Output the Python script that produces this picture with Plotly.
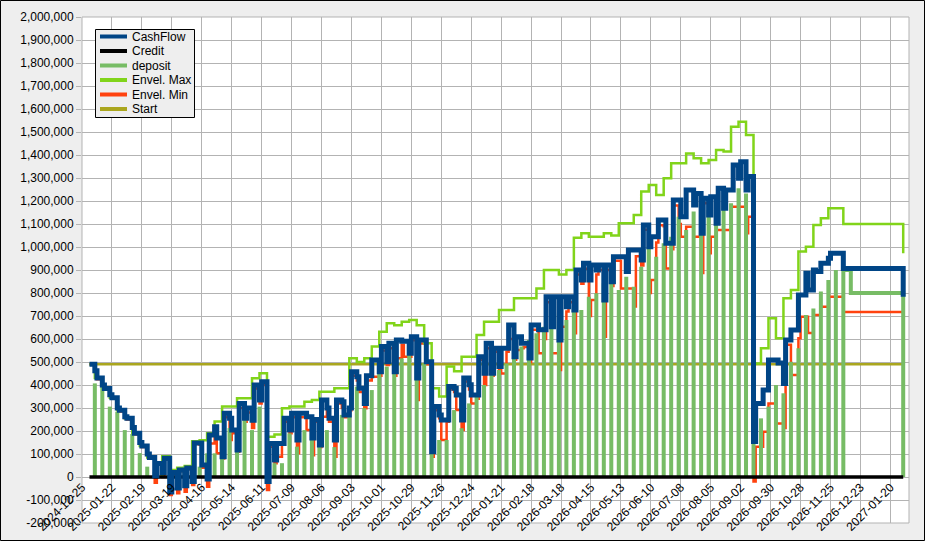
import plotly.graph_objects as go
import pandas as pd

# weekly dates (deposit day), plus start / tail / end of the series
start_date = "2025-01-01"
week_dates = pd.date_range("2025-01-06", periods=101, freq="7D")
tail_date = pd.Timestamp("2026-12-14")
end_date = pd.Timestamp("2027-02-01")

# values in thousands
deposit = [407, 393, 306, 284, 204, 187, 104, 45, 23, 10,
           5, 30, 45, 30, 45, 103, 103, 88, 213, 132,
           248, 204, 306, 349, 60, 60, 190, 132, 204, 219,
           132, 204, 130, 270, 270, 393, 299, 378, 458, 480,
           487, 516, 530, 516, 494, 103, 161, 161, 291, 212,
           320, 349, 400, 458, 465, 494, 545, 567, 596, 625,
           653, 668, 712, 683, 741, 726, 784, 799, 842, 842,
           813, 871, 827, 914, 1001, 958, 1016, 1045, 1132, 1074,
           1154, 1067, 1161, 1103, 1161, 1190, 1255, 1233, 146, 255,
           306, 400, 364, 501, 560, 704, 733, 806, 857, 900,
           900]
deposit_tail = 800

cash_dip = [462, 400, 358, 300, 262, 215, 150, 100, 5, 20,
            -65, -48, -38, -20, 148, -9, 219, 88, 255, 117,
            255, 247, 335, -20, 74, 146, 204, 161, 277, 170,
            139, 300, 161, 327, 300, 436, 320, 509, 458, 501,
            458, 590, 538, 430, 596, 110, 270, 248, 386, 248,
            401, 357, 451, 451, 480, 560, 523, 581, 517, 661,
            640, 653, 596, 740, 726, 857, 857, 900, 770, 849,
            958, 893, 987, 944, 1001, 1045, 1117, 1016, 1204, 1248,
            1183, 1060, 1139, 1103, 1168, 1248, 1299, 1248, 154, 320,
            509, 509, 407, 639, 791, 886, 900, 929, 951, 973,
            907]
cash_level = [430, 385, 345, 290, 255, 190, 135, 85, 59, 81,
              20, 30, 39, 148, 52, 183, 170, 277, 204, 320,
              300, 400, 414, 146, 146, 255, 277, 277, 262, 250,
              335, 255, 335, 270, 458, 386, 440, 509, 567, 581,
              596, 590, 610, 596, 501, 306, 248, 393, 357, 430,
              357, 523, 581, 560, 560, 661, 610, 581, 661, 640,
              784, 784, 784, 784, 900, 929, 922, 922, 922, 958,
              958, 987, 987, 1096, 1045, 1117, 1016, 1204, 1132, 1248,
              1233, 1212, 1219, 1255, 1248, 1356, 1371, 1306, 320, 378,
              509, 496, 596, 639, 791, 813, 893, 929, 973, 973,
              907]

env_max = [430, 385, 345, 290, 255, 190, 135, 85, 62, 90,
           30, 40, 48, 155, 160, 190, 241, 306, 306, 342,
           342, 429, 451, 175, 185, 299, 306, 306, 327, 335,
           371, 371, 386, 386, 516, 500, 516, 567, 632, 668,
           660, 675, 683, 660, 581, 386, 350, 480, 460, 523,
           523, 617, 675, 675, 726, 726, 777, 777, 777, 820,
           900, 900, 880, 900, 1040, 1060, 1045, 1045, 1060, 1050,
           1103, 1103, 1139, 1241, 1270, 1226, 1299, 1364, 1364, 1407,
           1386, 1364, 1378, 1422, 1415, 1523, 1545, 1487, 494, 560,
           690, 603, 777, 813, 980, 1001, 1096, 1125, 1168, 1168,
           1100]

env_min_dip = [457, 395, 353, 295, 257, 210, 145, 95, -25, 0,
               -78, -71, -64, -35, 140, -42, 210, 80, 161, 110,
               240, 213, 320, -56, 60, 140, 190, 103, 260, 95,
               130, 290, 88, 300, 290, 420, 299, 436, 440, 487,
               440, 575, 523, 335, 580, 88, 255, 240, 370, 204,
               380, 340, 400, 440, 465, 545, 510, 560, 500, 640,
               600, 538, 465, 720, 625, 840, 700, 880, 610, 830,
               940, 820, 741, 920, 800, 1020, 1090, 990, 1100, 1088,
               1045, 887, 973, 1074, 1074, 1175, 1175, 1060, -20, 132,
               320, 233, 213, 443, 603, 697, 704, 740, 784, 784,
               717]
env_min_level = [425, 380, 340, 285, 250, 185, 130, 80, 54, 76,
                 15, 25, 34, 143, 40, 146, 103, 260, 190, 300,
                 280, 385, 400, 132, 88, 240, 260, 260, 204, 240,
                 262, 240, 320, 260, 440, 370, 420, 436, 550, 560,
                 516, 523, 595, 580, 490, 290, 161, 380, 291, 415,
                 320, 510, 560, 545, 450, 600, 552, 565, 640, 538,
                 760, 538, 653, 760, 880, 905, 770, 900, 900, 940,
                 820, 820, 960, 1075, 857, 1095, 907, 1180, 1045, 1088,
                 1045, 1190, 1045, 1074, 1074, 1175, 1175, 1132, 132, 197,
                 320, 233, 575, 443, 697, 626, 704, 740, 784, 784,
                 717]

start_value = 490
credit_value = 0
cash_end, max_end, min_end = 784, 973, 717

# legend entries (drawn by hand to get LibreOffice-like compact spacing)
legend_names = ["CashFlow", "Credit", "deposit", "Envel. Max", "Envel. Min", "Start"]
legend_colors = ["#004586", "#000000", "#77bc65", "#81d41a", "#ff420e", "#aaa61e"]

K = 1000
dip_len = pd.Timedelta(days=2)


def step_series(first, dips, levels, last):
    xs, ys = [pd.Timestamp(start_date)], [first * K]
    for d, a, b in zip(week_dates, dips, levels):
        xs += [d, d + dip_len]
        ys += [a * K, b * K]
    xs.append(end_date)
    ys.append(last * K)
    return xs, ys


cx, cy = step_series(start_value, cash_dip, cash_level, cash_end)
mx, my = step_series(start_value, env_max, env_max, max_end)
nx, ny = step_series(start_value, env_min_dip, env_min_level, min_end)

# deposit spikes
dx, dy = [], []
for d, v in zip(week_dates[:-1], deposit[:-1]):
    dx += [d, d, None]
    dy += [0, v * K, None]
dx += [week_dates[-1], week_dates[-1], tail_date, tail_date, end_date, end_date]
dy += [0, deposit[-1] * K, deposit[-1] * K, deposit_tail * K, deposit_tail * K, 0]

fig = go.Figure()
fig.add_trace(go.Scatter(x=[start_date, end_date], y=[start_value * K] * 2, mode="lines",
                         name="Start", line=dict(color=legend_colors[5], width=2.5)))
fig.add_trace(go.Scatter(x=nx, y=ny, mode="lines", name="Envel. Min", line_shape="hv",
                         line=dict(color=legend_colors[4], width=2.5)))
fig.add_trace(go.Scatter(x=mx, y=my, mode="lines", name="Envel. Max", line_shape="hv",
                         line=dict(color=legend_colors[3], width=2.5)))
fig.add_trace(go.Scatter(x=dx, y=dy, mode="lines", name="deposit", connectgaps=False,
                         line=dict(color=legend_colors[2], width=4, simplify=False)))
fig.add_trace(go.Scatter(x=[start_date, end_date], y=[credit_value] * 2, mode="lines",
                         name="Credit", line=dict(color=legend_colors[1], width=3.5)))
fig.add_trace(go.Scatter(x=cx, y=cy, mode="lines", name="CashFlow", line_shape="hv",
                         line=dict(color=legend_colors[0], width=5)))

ml, mr, mt, mb = 82, 16, 17, 18
W, H = 925, 541
pw, ph = W - ml - mr, H - mt - mb
ymin, ymax = -200000, 2000000
ytick_vals = list(range(ymin, ymax + 1, 100000))


# hand-drawn legend box (pixel positions converted to paper coords)
def px(x):
    return (x - ml) / pw


def py(y):
    return 1 - (y - mt) / ph


shapes = [
    dict(type="rect", xref="paper", yref="paper", x0=0, x1=1, y0=0, y1=1,
         line=dict(color="#b3b3b3", width=1), layer="below"),
    dict(type="rect", xref="paper", yref="paper",
         x0=-(ml - 0.5) / pw, x1=1 + (mr - 0.5) / pw,
         y0=-(mb - 0.5) / ph, y1=1 + (mt - 0.5) / ph,
         line=dict(color="#000000", width=1)),
    dict(type="rect", xref="paper", yref="paper", x0=px(95.5), x1=px(194.5),
         y0=py(117.5), y1=py(29.5), fillcolor="#eeeeee",
         line=dict(color="#000000", width=1)),
]
annotations = []
for i, (name, col) in enumerate(zip(legend_names, legend_colors)):
    yy = 36.5 + i * 14.5
    shapes.append(dict(type="line", xref="paper", yref="paper", x0=px(100), x1=px(127),
                       y0=py(yy), y1=py(yy), line=dict(color=col, width=4)))
    annotations.append(dict(xref="paper", yref="paper", x=px(130), y=py(yy), text=name,
                            showarrow=False, xanchor="left", yanchor="middle",
                            font=dict(size=12, color="#000000")))

fig.update_layout(
    width=W, height=H,
    margin=dict(l=ml, r=mr, t=mt, b=mb, autoexpand=False),
    paper_bgcolor="#eeeeee", plot_bgcolor="#ffffff",
    font=dict(family="Liberation Sans, Arial, sans-serif", size=12, color="#000000"),
    showlegend=False,
    xaxis=dict(type="date", range=["2024-12-25", "2027-02-06 10:00"],
               tick0="2024-12-25", dtick=28 * 86400000, tickformat="%Y-%m-%d",
               tickangle=-45, showgrid=True, gridcolor="#b3b3b3", gridwidth=1,
               zeroline=False, showline=False, ticks="", automargin=False,
               anchor="free", position=-ymin / (ymax - ymin)),
    yaxis=dict(range=[ymin, ymax], tickvals=ytick_vals,
               ticktext=[f"{v:,}" for v in ytick_vals], automargin=False,
               showgrid=True, gridcolor="#b3b3b3", gridwidth=1, zeroline=False,
               ticks="outside", ticklen=5, tickcolor="#b3b3b3", showline=False),
    shapes=shapes,
    annotations=annotations,
)

# the page body has a default 8px margin; remove it so the chart fills the window
fig.write_html("out.html", config={"displayModeBar": False},
               post_script="document.body.style.margin='0';")
